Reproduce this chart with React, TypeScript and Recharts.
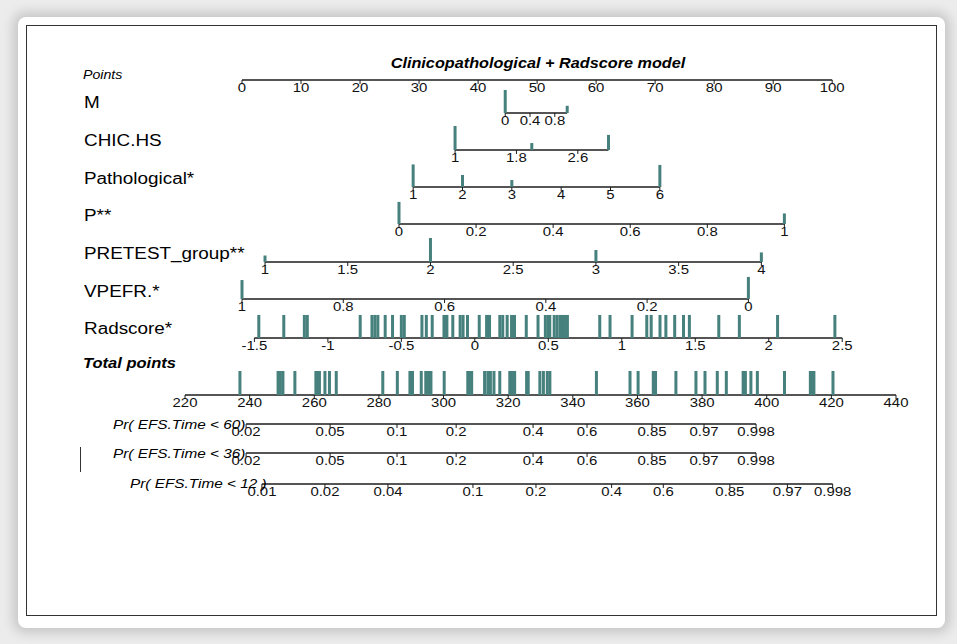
import React from "react";
import { ComposedChart, XAxis, YAxis, Scatter, ReferenceLine } from "recharts";

// ---------- values ----------

const TITLE = "Clinicopathological + Radscore model";

const POINT_TICKS = [0, 10, 20, 30, 40, 50, 60, 70, 80, 90, 100];
const TOTAL_TICKS = [220, 240, 260, 280, 300, 320, 340, 360, 380, 400, 420, 440];

const VARIABLES = ["M", "CHIC.HS", "Pathological*", "P**", "PRETEST_group**", "VPEFR.*", "Radscore*"];

// [value at start, points at start, value at end, points at end]
const M_SCALE = [0, 44.6, 1, 55.1];
const CHIC_SCALE = [1, 36.1, 3, 62.1];
const PATH_SCALE = [1, 29.0, 6, 70.8];
const P_SCALE = [0, 26.6, 1, 91.9];
const PRETEST_SCALE = [1, 3.9, 4, 88.0];
const VPEFR_SCALE = [1, 0, 0, 85.8];
const RAD_SCALE = [-1.5, 2.1, 2.5, 101.7];

const M_TICKS = [0, 0.4, 0.8];
const CHIC_TICKS = [1, 1.8, 2.6];
const PATH_TICKS = [1, 2, 3, 4, 5, 6];
const P_TICKS = [0, 0.2, 0.4, 0.6, 0.8, 1];
const PRETEST_TICKS = [1, 1.5, 2, 2.5, 3, 3.5, 4];
const VPEFR_TICKS = [1, 0.8, 0.6, 0.4, 0.2, 0];
const RAD_TICKS = [-1.5, -1, -0.5, 0, 0.5, 1, 1.5, 2, 2.5];

// observed values and relative frequency (spike height, 1 = tallest)
const M_FREQ = [{ v: 0, h: 0.96 }, { v: 1, h: 0.3 }];
const CHIC_FREQ = [{ v: 1, h: 1.0 }, { v: 2, h: 0.29 }, { v: 3, h: 0.63 }];
const PATH_FREQ = [{ v: 1, h: 0.94 }, { v: 2, h: 0.5 }, { v: 3, h: 0.29 }, { v: 6, h: 0.92 }];
const P_FREQ = [{ v: 0, h: 0.92 }, { v: 1, h: 0.44 }];
const PRETEST_FREQ = [{ v: 1, h: 0.27 }, { v: 2, h: 1.0 }, { v: 3, h: 0.5 }, { v: 4, h: 0.4 }];
const VPEFR_FREQ = [{ v: 1, h: 0.79 }, { v: 0, h: 0.92 }];

const RADSCORE_OBS = [
  -1.47, -1.3, -1.16, -1.14, -0.78, -0.7, -0.68, -0.66, -0.61, -0.56, -0.5, -0.48, -0.36, -0.33,
  -0.29, -0.21, -0.2, -0.19, -0.15, -0.1, -0.08, -0.05, 0.03, 0.08, 0.09, 0.1, 0.17, 0.19, 0.22,
  0.25, 0.27, 0.35, 0.43, 0.48, 0.5, 0.51, 0.54, 0.56, 0.58, 0.59, 0.61, 0.63, 0.85, 0.92, 1.07,
  1.17, 1.2, 1.26, 1.3, 1.36, 1.42, 1.46, 1.66, 1.8, 2.06, 2.45,
];

const TOTAL_OBS = [
  237.0, 248.8, 249.5, 250.3, 254.0, 260.5, 261.0, 261.6, 263.3, 264.7, 266.8, 281.2, 285.7,
  289.6, 290.0, 290.4, 293.1, 294.5, 295.0, 295.5, 296.1, 300.2, 307.5, 308.0, 308.7, 312.7,
  313.7, 314.5, 315.6, 317.4, 320.5, 321.3, 322.0, 325.7, 326.2, 329.8, 330.9, 332.1, 332.9,
  347.3, 357.7, 360.2, 364.9, 365.6, 371.9, 378.1, 380.9, 384.7, 387.5, 392.7, 393.4, 395.1,
  397.1, 405.5, 413.5, 414.0, 414.6, 420.5,
];

// probability ticks and where they sit on the total points scale
const PR60_LABELS = ["0.02", "0.05", "0.1", "0.2", "0.4", "0.6", "0.85", "0.97", "0.998"];
const PR60_AT = [238.9, 264.9, 285.6, 303.9, 327.7, 344.4, 364.5, 380.6, 396.7];
const PR36_LABELS = ["0.02", "0.05", "0.1", "0.2", "0.4", "0.6", "0.85", "0.97", "0.998"];
const PR36_AT = [238.9, 264.9, 285.6, 303.9, 327.7, 344.4, 364.5, 380.6, 396.7];
const PR12_LABELS = ["0.01", "0.02", "0.04", "0.1", "0.2", "0.4", "0.6", "0.85", "0.97", "0.998"];
const PR12_AT = [243.8, 263.3, 282.8, 309.1, 328.6, 352.0, 368.0, 388.6, 406.4, 420.4];

// ---------- layout ----------

const W = 957;
const H = 644;
const FONT = '"Liberation Sans", Arial, sans-serif';
const AXIS_COLOR = "#1c1c1c";
const SPIKE_COLOR = "#47817d";
const SPIKE_PX = 24;
const STRETCH = 1.15;

// baseline of each row's axis (px from top)
const ROW_Y = [80, 113, 150, 187, 224, 262, 299, 338, 395, 424, 453, 484];

const toPts = (s: number[], v: number) => s[1] + ((v - s[0]) / (s[2] - s[0])) * (s[3] - s[1]);
const fmt = (v: number) => String(v);

const rows = [
  { scale: M_SCALE, ticks: M_TICKS, freq: M_FREQ },
  { scale: CHIC_SCALE, ticks: CHIC_TICKS, freq: CHIC_FREQ },
  { scale: PATH_SCALE, ticks: PATH_TICKS, freq: PATH_FREQ },
  { scale: P_SCALE, ticks: P_TICKS, freq: P_FREQ },
  { scale: PRETEST_SCALE, ticks: PRETEST_TICKS, freq: PRETEST_FREQ },
  { scale: VPEFR_SCALE, ticks: VPEFR_TICKS, freq: VPEFR_FREQ },
  { scale: RAD_SCALE, ticks: RAD_TICKS, freq: RADSCORE_OBS.map((v) => ({ v, h: 0.96 })) },
];

const prRows = [
  { labels: PR60_LABELS, at: PR60_AT, y: ROW_Y[9] },
  { labels: PR36_LABELS, at: PR36_AT, y: ROW_Y[10] },
  { labels: PR12_LABELS, at: PR12_AT, y: ROW_Y[11] },
];

const pointTickData = POINT_TICKS.map((t) => ({ x: t, y: ROW_Y[0], label: fmt(t) }));
const totalTickData = TOTAL_TICKS.map((t) => ({ x: t, y: ROW_Y[8], label: fmt(t) }));
const varTickData = rows.flatMap((r, i) =>
  r.ticks.map((t) => ({ x: toPts(r.scale, t), y: ROW_Y[i + 1], label: fmt(t) }))
);
const varSpikeData = rows.flatMap((r, i) =>
  r.freq.map((f) => ({ x: toPts(r.scale, f.v), y: ROW_Y[i + 1], h: f.h }))
);
const totalSpikeData = TOTAL_OBS.map((t) => ({ x: t, y: ROW_Y[8], h: 1.0 }));
const prTickData = prRows.flatMap((r) => r.labels.map((l, j) => ({ x: r.at[j], y: r.y, label: l })));

const makeTick = (offset: number) => (props: any) => {
  const { cx, cy, payload } = props;
  if (cx == null || cy == null) return <g />;
  return (
    <g>
      <line x1={cx} y1={cy} x2={cx} y2={cy + 4} stroke={AXIS_COLOR} strokeWidth={1} />
      <g transform={`translate(${cx},${cy}) scale(${STRETCH},1)`}>
        <text x={0} y={offset} textAnchor="middle" fontSize={13} fontFamily={FONT} fill="#111">
          {payload.label}
        </text>
      </g>
    </g>
  );
};

const Spike = (props: any) => {
  const { cx, cy, payload } = props;
  if (cx == null || cy == null) return <g />;
  const h = payload.h * SPIKE_PX;
  return <rect x={cx - 1.5} y={cy - h} width={3} height={h} fill={SPIKE_COLOR} />;
};

const Label = ({ text, x, y, size, italic, bold, center }: any) => (
  <div
    style={{
      position: "absolute",
      left: x,
      top: y - size / 2,
      fontFamily: FONT,
      fontSize: size,
      lineHeight: 1,
      fontStyle: italic ? "italic" : "normal",
      fontWeight: bold ? 700 : 400,
      whiteSpace: "nowrap",
      color: "#000",
      transform: center ? `translateX(-50%) scaleX(1.16)` : `scaleX(1.18)`,
      transformOrigin: center ? "center center" : "left center",
    }}
  >
    {text}
  </div>
);

const VAR_LABEL_Y = [103, 141, 179, 216, 254, 292, 329];

export default function App() {
  const seg = (a: number, b: number, y: number) => [
    { x: a, y },
    { x: b, y },
  ];
  return (
    <div style={{ position: "absolute", left: 0, top: 0, width: W, height: H, background: "#ececec" }}>
      <div
        style={{
          position: "absolute",
          left: 18,
          top: 17,
          width: 927,
          height: 611,
          background: "#fff",
          borderRadius: 8,
          boxShadow: "0 0 12px 5px rgba(0,0,0,0.16)",
        }}
      />
      <div
        style={{
          position: "absolute",
          left: 26,
          top: 25,
          width: 909,
          height: 589,
          border: "1.5px solid #333",
        }}
      />
      <div style={{ position: "absolute", left: 80, top: 447, width: 1, height: 25, background: "#333" }} />
      <div style={{ position: "absolute", left: 0, top: 0 }}>
        <ComposedChart width={W} height={H} margin={{ top: 0, right: 61, bottom: 0, left: 185 }}>
          <XAxis xAxisId="pts" dataKey="x" type="number" domain={[0, 102]} padding={{ left: 57, right: 52 }} hide />
          <XAxis xAxisId="tot" dataKey="x" type="number" domain={[220, 440]} hide />
          <YAxis yAxisId="row" dataKey="y" type="number" domain={[0, H]} reversed hide />

          <ReferenceLine xAxisId="pts" yAxisId="row" segment={seg(0, 100, ROW_Y[0])} stroke={AXIS_COLOR} strokeWidth={1.5} ifOverflow="visible" />
          {rows.map((r, i) => (
            <ReferenceLine
              key={i}
              xAxisId="pts"
              yAxisId="row"
              segment={seg(toPts(r.scale, r.scale[0]), toPts(r.scale, r.scale[2]), ROW_Y[i + 1])}
              stroke={AXIS_COLOR}
              strokeWidth={1.5}
              ifOverflow="visible"
            />
          ))}
          <ReferenceLine xAxisId="tot" yAxisId="row" segment={seg(220, 440, ROW_Y[8])} stroke={AXIS_COLOR} strokeWidth={1.5} ifOverflow="visible" />
          {prRows.map((r, i) => (
            <ReferenceLine
              key={"pr" + i}
              xAxisId="tot"
              yAxisId="row"
              segment={seg(r.at[0], r.at[r.at.length - 1], r.y)}
              stroke={AXIS_COLOR}
              strokeWidth={1.5}
              ifOverflow="visible"
            />
          ))}

          <Scatter xAxisId="pts" yAxisId="row" data={pointTickData} shape={makeTick(11.5)} isAnimationActive={false} />
          <Scatter xAxisId="pts" yAxisId="row" data={varTickData} shape={makeTick(11.5)} isAnimationActive={false} />
          <Scatter xAxisId="tot" yAxisId="row" data={totalTickData} shape={makeTick(12)} isAnimationActive={false} />
          <Scatter xAxisId="tot" yAxisId="row" data={prTickData} shape={makeTick(12)} isAnimationActive={false} />
          <Scatter xAxisId="pts" yAxisId="row" data={varSpikeData} shape={Spike} isAnimationActive={false} />
          <Scatter xAxisId="tot" yAxisId="row" data={totalSpikeData} shape={Spike} isAnimationActive={false} />
        </ComposedChart>
      </div>

      <Label text={TITLE} x={538} y={63} size={14} italic bold center />
      <Label text="Points" x={83} y={75} size={12} italic />
      {VARIABLES.map((v, i) => (
        <Label key={v} text={v} x={84} y={VAR_LABEL_Y[i]} size={16} />
      ))}
      <Label text="Total points" x={83} y={363} size={14} italic bold />
      <Label text="Pr( EFS.Time < 60)" x={113} y={424} size={13} italic />
      <Label text="Pr( EFS.Time < 36)" x={113} y={453} size={13} italic />
      <Label text="Pr( EFS.Time < 12 )" x={130} y={483} size={13} italic />
    </div>
  );
}
